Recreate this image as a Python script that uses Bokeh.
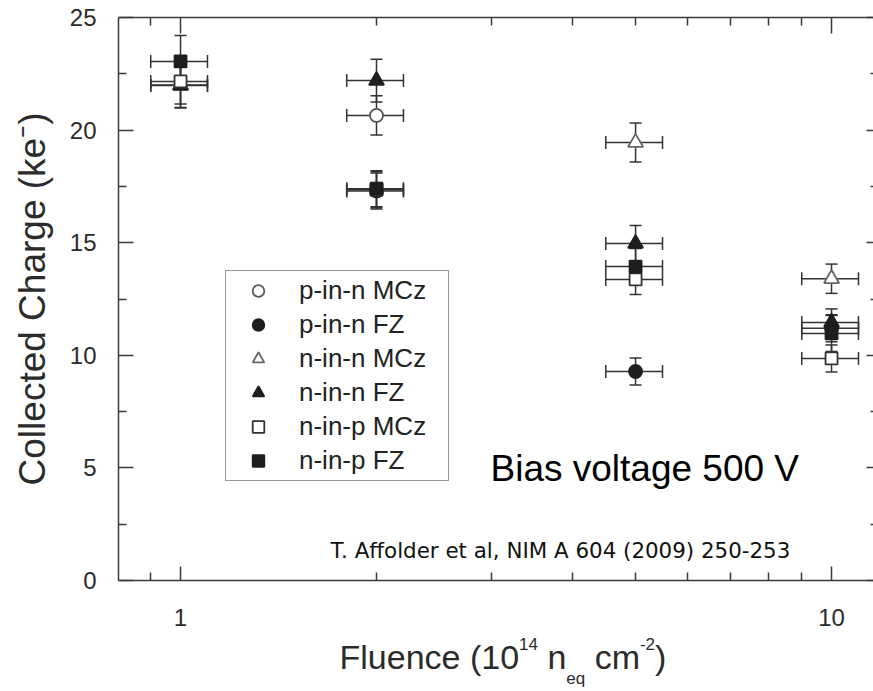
from bokeh.plotting import figure
from bokeh.layouts import column
from bokeh.models import (Range1d, FixedTicker, LogAxis, LinearAxis, Whisker, TeeHead,
                          ColumnDataSource, Legend, LegendItem, Label, PrintfTickFormatter,
                          CustomJSTickFormatter)
from bokeh.embed import file_html
from bokeh.resources import INLINE

# ---------------- data ----------------
series_names = ["p-in-n MCz", "p-in-n FZ", "n-in-n MCz", "n-in-n FZ", "n-in-p MCz", "n-in-p FZ"]

pn_mcz_fluence = [2]
pn_mcz_xerr = [0.2]
pn_mcz_charge = [20.65]
pn_mcz_err = [0.87]

pn_fz_fluence = [2, 5, 10]
pn_fz_xerr = [0.2, 0.5, 1.0]
pn_fz_charge = [17.3, 9.28, 11.2]
pn_fz_err = [0.8, 0.6, 0.6]

nn_mcz_fluence = [1, 5, 10]
nn_mcz_xerr = [0.1, 0.5, 1.0]
nn_mcz_charge = [22.0, 19.45, 13.4]
nn_mcz_err = [1.0, 0.87, 0.65]

nn_fz_fluence = [1, 2, 5, 10]
nn_fz_xerr = [0.1, 0.2, 0.5, 1.0]
nn_fz_charge = [21.98, 22.2, 14.96, 11.46]
nn_fz_err = [1.0, 0.95, 0.8, 0.6]

np_mcz_fluence = [1, 2, 5, 10]
np_mcz_xerr = [0.1, 0.2, 0.5, 1.0]
np_mcz_charge = [22.16, 17.35, 13.37, 9.86]
np_mcz_err = [1.0, 0.8, 0.67, 0.6]

np_fz_fluence = [1, 2, 5, 10]
np_fz_xerr = [0.1, 0.2, 0.5, 1.0]
np_fz_charge = [23.05, 17.4, 13.94, 10.97]
np_fz_err = [1.15, 0.8, 0.8, 0.8]

x_major_ticks = [1, 10]
x_minor_ticks = [0.9, 2, 3, 4, 5, 6, 7, 8, 9]
y_major_ticks = [0, 5, 10, 15, 20, 25]
y_minor_ticks = [2.5, 7.5, 12.5, 17.5, 22.5]

# ---------------- styling ----------------
FONT = "Liberation Sans"
TXT = "#2b2b2b"
AX = "#3a3a3a"
FILL = "#1e1e1e"
OPEN_LINE = "#555555"

p = figure(width=873, height=636, x_axis_type="log", title=None,
           x_range=Range1d(0.803, 11.6), y_range=Range1d(0, 25),
           output_backend="svg", toolbar_location=None,
           min_border_left=118, min_border_right=0, min_border_top=17, min_border_bottom=56)
p.grid.visible = False
p.outline_line_color = None
p.background_fill_color = "white"
p.border_fill_color = "white"

# bottom axis
xa = p.xaxis[0]
xa.ticker = FixedTicker(ticks=x_major_ticks, minor_ticks=x_minor_ticks)
xa.formatter = PrintfTickFormatter(format="%d")
xa.major_tick_in = 14
xa.major_tick_out = 0
xa.minor_tick_in = 8
xa.minor_tick_out = 0
xa.axis_line_color = AX
xa.axis_line_width = 1.5
xa.major_tick_line_color = AX
xa.minor_tick_line_color = AX
xa.major_tick_line_width = 1.5
xa.minor_tick_line_width = 1.5
xa.major_label_text_font = FONT
xa.major_label_text_font_size = "24px"
xa.major_label_text_color = TXT
xa.major_label_standoff = 28

# left axis
ya = p.yaxis[0]
ya.ticker = FixedTicker(ticks=y_major_ticks, minor_ticks=y_minor_ticks)
ya.major_tick_in = 15
ya.major_tick_out = 0
ya.minor_tick_in = 8
ya.minor_tick_out = 0
ya.axis_line_color = AX
ya.axis_line_width = 1.5
ya.major_tick_line_color = AX
ya.minor_tick_line_color = AX
ya.major_tick_line_width = 1.5
ya.minor_tick_line_width = 1.5
ya.major_label_text_font = FONT
ya.major_label_text_font_size = "24px"
ya.major_label_text_color = TXT
ya.major_label_standoff = 22
ya.axis_label = "Collected Charge (ke\u207b)"
ya.axis_label_text_font = FONT
ya.axis_label_text_font_size = "37px"
ya.axis_label_text_font_style = "normal"
ya.axis_label_text_color = TXT
ya.axis_label_standoff = 14

blank = CustomJSTickFormatter(code="return ''")

top = LogAxis(ticker=FixedTicker(ticks=x_major_ticks, minor_ticks=x_minor_ticks),
              formatter=blank, major_tick_in=16, major_tick_out=0,
              minor_tick_in=8, minor_tick_out=0, major_label_standoff=0,
              major_label_text_font_size="1px",
              axis_line_color=AX, axis_line_width=1.5,
              major_tick_line_color=AX, minor_tick_line_color=AX,
              major_tick_line_width=1.5, minor_tick_line_width=1.5)
p.add_layout(top, "above")

right = LinearAxis(ticker=FixedTicker(ticks=y_major_ticks, minor_ticks=y_minor_ticks),
                   formatter=blank, major_tick_in=7, major_tick_out=0,
                   minor_tick_in=3, minor_tick_out=0, major_label_standoff=0,
                   major_label_text_font_size="1px",
                   axis_line_color=None,
                   major_tick_line_color=AX, minor_tick_line_color=AX,
                   major_tick_line_width=1.5, minor_tick_line_width=1.5)
p.add_layout(right, "right")

# ---------------- series ----------------
series = [
    (pn_mcz_fluence, pn_mcz_xerr, pn_mcz_charge, pn_mcz_err, "circle", 13, "white", OPEN_LINE),
    (pn_fz_fluence, pn_fz_xerr, pn_fz_charge, pn_fz_err, "circle", 13, FILL, FILL),
    (nn_mcz_fluence, nn_mcz_xerr, nn_mcz_charge, nn_mcz_err, "triangle", 15, "white", "#666666"),
    (nn_fz_fluence, nn_fz_xerr, nn_fz_charge, nn_fz_err, "triangle", 15, FILL, FILL),
    (np_mcz_fluence, np_mcz_xerr, np_mcz_charge, np_mcz_err, "square", 12, "white", "#333333"),
    (np_fz_fluence, np_fz_xerr, np_fz_charge, np_fz_err, "square", 12, FILL, FILL),
]

legend_items = []
for name, (fx, fxe, cy, cye, marker, size, fill, line) in zip(series_names, series):
    src = ColumnDataSource(dict(
        x=fx, y=cy,
        xlo=[a - b for a, b in zip(fx, fxe)], xhi=[a + b for a, b in zip(fx, fxe)],
        ylo=[a - b for a, b in zip(cy, cye)], yhi=[a + b for a, b in zip(cy, cye)],
    ))
    wy = Whisker(source=src, base="x", lower="ylo", upper="yhi", dimension="height",
                 line_color="#333333", line_width=1.5, level="underlay",
                 upper_head=TeeHead(size=12, line_color="#333333", line_width=1.5),
                 lower_head=TeeHead(size=12, line_color="#333333", line_width=1.5))
    wx = Whisker(source=src, base="y", lower="xlo", upper="xhi", dimension="width",
                 line_color="#333333", line_width=1.5, level="underlay",
                 upper_head=TeeHead(size=13, line_color="#333333", line_width=1.5),
                 lower_head=TeeHead(size=13, line_color="#333333", line_width=1.5))
    p.add_layout(wy)
    p.add_layout(wx)
    r = p.scatter("x", "y", source=src, marker=marker, size=size,
                  fill_color=fill, line_color=line, line_width=1.8)
    legend_items.append(LegendItem(label=name, renderers=[r]))

legend = Legend(items=legend_items, location=(107, 99),
                label_text_font=FONT, label_text_font_size="26px", label_text_color="#222222",
                glyph_width=56, glyph_height=29, label_height=29, label_width=145,
                label_standoff=13, spacing=3, padding=4, margin=0,
                border_line_color="#333333", border_line_width=1.5,
                background_fill_color="white", background_fill_alpha=1.0)
p.add_layout(legend, "center")

# ---------------- texts inside the plot ----------------
p.add_layout(Label(x=2.993, y=4.97, text="Bias voltage 500 V", text_font=FONT,
                   text_font_size="37px", text_color="black",
                   text_align="left", text_baseline="middle"))
p.add_layout(Label(x=1.70, y=1.33, text="T. Affolder et al, NIM A 604 (2009) 250-253",
                   text_font="DejaVu Sans", text_font_size="21.4px", text_color="#111111",
                   text_align="left", text_baseline="middle"))

# ---------------- x-axis title strip (super/subscripts) ----------------
q = figure(width=873, height=55, title=None,
           x_range=Range1d(118, 873), y_range=Range1d(0, 55),
           output_backend="svg", toolbar_location=None,
           x_axis_location=None, y_axis_location=None,
           min_border_left=118, min_border_right=0, min_border_top=0, min_border_bottom=0)
q.grid.visible = False
q.outline_line_color = None
q.background_fill_color = "white"
q.border_fill_color = "white"

BIG, SMALL = 34, 17
SPACE = 0.278
pieces = [("Fluence (10", BIG, 35, 0.0, 5.28), ("14", SMALL, 48, 0.0, 1.112),
          ("n", BIG, 35, SPACE, 0.556), ("eq", SMALL, 13, 0.0, 1.112),
          ("cm", BIG, 35, SPACE, 1.333), ("-2", SMALL, 48, 0.0, 0.889), (")", BIG, 35, 0.0, 0.333)]
xpos = 339.0
for txt, fs, yb, lead, em in pieces:
    xpos += lead * fs
    q.add_layout(Label(x=xpos, y=yb, text=txt,
                       text_font=FONT, text_font_size=f"{fs}px", text_color=TXT,
                       text_align="left", text_baseline="middle"))
    xpos += em * fs

layout = column(p, q, spacing=0)
open("out.html", "w").write(file_html(layout, INLINE))
